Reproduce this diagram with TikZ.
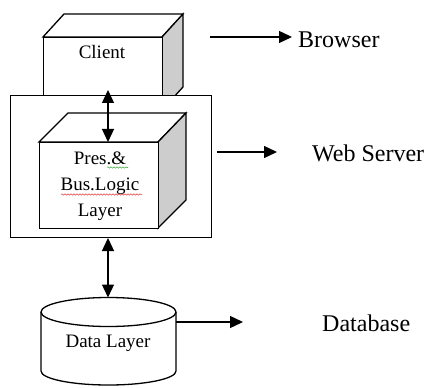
\documentclass[tikz,border=0pt]{standalone}
\usepackage{fontspec}
\setmainfont{Liberation Serif}
\usetikzlibrary{arrows.meta,decorations.pathmorphing}
\definecolor{sidegray}{RGB}{205,205,205}
\definecolor{spellred}{RGB}{230,60,60}
\definecolor{spellgreen}{RGB}{70,170,70}
\tikzset{
  edge/.style={line width=1.3pt, line join=miter},
  face/.style={edge, fill=white},
  sideface/.style={edge, fill=sidegray},
  tip/.style={-{Triangle[length=13pt,width=12pt]}, line width=1.3pt},
  dtip/.style={{Triangle[length=13pt,width=12pt]}-{Triangle[length=13pt,width=12pt]}, line width=1.3pt},
  inner/.style={font=\fontsize{19}{26}\selectfont, align=center, inner sep=0pt},
  outer/.style={font=\fontsize{24}{28}\selectfont, inner sep=0pt, anchor=west},
  squiggle/.style={line width=0.5pt, decorate, decoration={snake, amplitude=0.7pt, segment length=3pt}}
}
\begin{document}
\begin{tikzpicture}[x=1pt,y=-1pt]
  \useasboundingbox (0,0) rectangle (427,387);

  % client block
  \draw[face] (43,37) -- (64,14) -- (183,14) -- (162,37) -- cycle;
  \draw[sideface] (162,37) -- (183,14) -- (183,87) -- (162,110) -- cycle;
  \node[face, draw, minimum width=119pt, minimum height=73pt, anchor=north west, inner sep=0pt] (client) at (43,37) {};
  \node[inner] (clienttxt) at (102,52) {Client};

  % web server frame
  \node[face, draw, minimum width=201pt, minimum height=142pt, anchor=north west, inner sep=0pt] (web) at (10,95) {};

  % presentation and business logic block
  \draw[face] (39,142) -- (68,113) -- (186,113) -- (158,142) -- cycle;
  \draw[sideface] (158,142) -- (186,113) -- (186,200) -- (158,228) -- cycle;
  \node[face, draw, minimum width=119pt, minimum height=86pt, anchor=north west, inner sep=0pt] (pres) at (39,142) {};
  \node[inner] (prestxt) at (100,186) {Pres.\&\\Bus.Logic\\Layer};
  \draw[spellgreen, squiggle] (107,167.5) -- (128,167.5);
  \draw[spellred, squiggle] (61,194.5) -- (142,194.5);

  % database cylinder
  \draw[face] (41,312) -- (41,371)
    arc[start angle=180, end angle=360, x radius=67.5pt, y radius=14pt]
    -- (176,312);
  \draw[edge] (108.5,312) ellipse [x radius=67.5pt, y radius=14.5pt];
  \coordinate (dbtop) at (108,297.5);
  \coordinate (dbright) at (176,322);
  \node[inner] (dbtxt) at (108,343) {Data Layer};

  % links between tiers
  \coordinate (clientlow) at (108,90);
  \draw[dtip] (clientlow) -- (clientlow |- pres.north);
  \coordinate (weblow) at (108,238);
  \draw[dtip] (weblow) -- (dbtop);

  % tier labels
  \coordinate (b1) at (210,37);
  \coordinate (b2) at (292,37);
  \draw[tip] (b1) -- (b2);
  \node[outer] (browser) at (298,40) {Browser};

  \coordinate (w1) at (217,152);
  \coordinate (w2) at (277,152);
  \draw[tip] (w1) -- (w2);
  \node[outer] (webserver) at (312,153) {Web Server};

  \coordinate (d2) at (243,322);
  \draw[tip] (dbright) -- (d2);
  \node[outer] (database) at (322,323) {Database};
\end{tikzpicture}
\end{document}
